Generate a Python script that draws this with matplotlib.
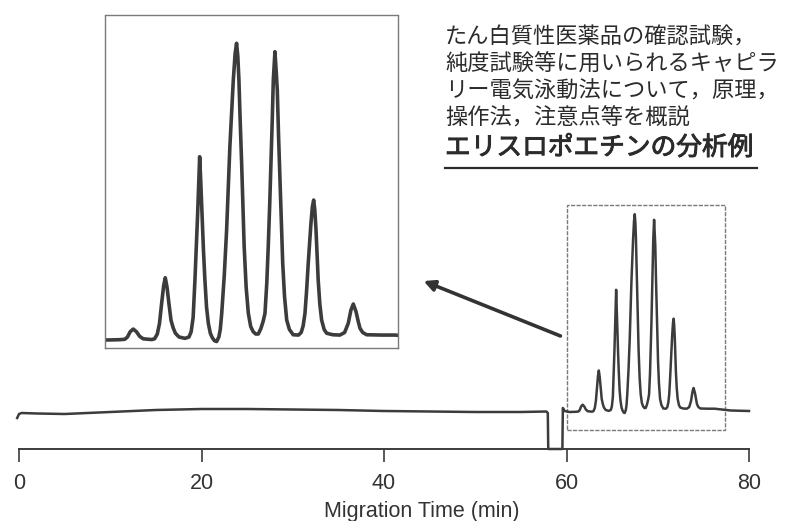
import matplotlib
matplotlib.use('Agg')
import matplotlib.pyplot as plt
import matplotlib.patheffects as pe
from matplotlib.patches import Rectangle, FancyArrowPatch
from matplotlib.lines import Line2D

# migration time (min) and detector signal (arbitrary units)
time_base = [-0.2, 0.0, 0.3, 2, 5, 10, 15, 20, 25, 30, 35, 40, 45, 50, 55,
             57.8, 57.95, 58.0, 59.55, 59.6, 59.8]
sig_base = [31, 35, 36, 35.5, 35, 37, 39, 40, 40, 39.5, 39, 38, 37.5, 37, 37,
            37.5, 36, 0, 0, 41, 38]

# EPO isoform region (60 - 80 min)
time_peaks = [60.32, 61.00, 61.31, 61.45, 61.60, 61.77, 61.95, 62.12, 62.32, 62.79,
              62.95, 63.10, 63.22, 63.34, 63.45, 63.54, 63.64, 63.74, 63.86, 63.98,
              64.10, 64.30, 64.63,
              64.85, 64.97, 65.08, 65.18, 65.26, 65.33, 65.39, 65.44, 65.50, 65.57,
              65.65, 65.73, 65.82, 65.92, 66.03, 66.14, 66.26, 66.38,
              66.50, 66.58, 66.66, 66.80, 66.93, 67.02, 67.11, 67.21, 67.30, 67.40,
              67.48, 67.55, 67.61, 67.68, 67.76, 67.83, 67.90, 68.01, 68.13, 68.26,
              68.40, 68.54, 68.68, 68.82,
              68.95, 69.05, 69.15, 69.23, 69.31, 69.38, 69.45, 69.51, 69.60, 69.66,
              69.73, 69.80, 69.88, 69.96, 70.03, 70.13, 70.25, 70.40, 70.61, 70.90,
              71.05, 71.16, 71.26, 71.35, 71.44, 71.52, 71.59, 71.67, 71.74, 71.80,
              71.87, 71.93, 71.99, 72.08, 72.18, 72.32, 72.46, 72.80, 73.19,
              73.45, 73.65, 73.80, 73.93, 74.08, 74.20, 74.30, 74.45, 74.67, 75.50,
              76.23, 78.0, 80.0]
sig_peaks = [37.0, 37.2, 37.5, 39.0, 42.5, 44.3, 42.5, 39.5, 37.8, 37.3,
             37.8, 41.0, 48.0, 61.5, 73.0, 78.5, 72.0, 61.5, 50.0, 45.0,
             41.5, 39.0, 38.1,
             39.0, 42.5, 52.0, 77.0, 100.0, 121.5, 143.0, 159.2, 143.0, 121.5,
             97.0, 77.0, 59.0, 48.1, 41.5, 38.5, 36.5, 36.0,
             39.0, 44.0, 54.8, 80.0, 110.3, 138.0, 165.9, 190.0, 210.3, 228.0,
             234.8, 226.0, 210.3, 183.0, 154.8, 127.0, 99.2, 72.0, 54.8, 46.0,
             42.5, 41.0, 41.0, 44.5,
             49.5, 54.8, 75.0, 99.2, 127.0, 154.8, 183.0, 210.3, 229.2, 218.0,
             203.7, 173.0, 143.7, 114.0, 88.1, 66.0, 50.3, 44.0, 40.5, 40.3,
             42.0, 46.5, 54.8, 70.0, 88.1, 102.0, 114.8, 126.0, 130.3, 124.0,
             110.3, 94.0, 77.0, 61.0, 50.3, 44.0, 41.5, 40.5, 40.3,
             42.0, 48.1, 57.0, 61.0, 55.9, 49.5, 44.8, 42.0, 40.5, 40.3,
             40.3, 38.5, 38.0]

xticks = [0, 20, 40, 60, 80]

body_lines = ['たん白質性医薬品の確認試験，',
              '純度試験等に用いられるキャピラ',
              'リー電気泳動法について，原理，',
              '操作法，注意点等を概説']
title_jp = 'エリスロポエチンの分析例'
xlabel = 'Migration Time (min)'


def main():
    W, H = 787, 521
    fig = plt.figure(figsize=(W / 100, H / 100), dpi=100)
    ink = '#3c3c3c'
    box = '#7a7a7a'
    jp = ['Noto Sans CJK JP', 'DejaVu Sans']

    t = time_base + time_peaks
    s = sig_base + sig_peaks

    # main electropherogram
    ax = fig.add_axes([19 / W, (H - 449) / H, 730 / W, 260 / H])
    ax.plot(t, s, color=ink, lw=1.8, clip_on=False, solid_joinstyle='round')
    ax.set_xlim(0, 80)
    ax.set_ylim(0, 260)
    for side in ['left', 'top', 'right']:
        ax.spines[side].set_visible(False)
    ax.spines['bottom'].set_color(ink)
    ax.spines['bottom'].set_linewidth(1.4)
    ax.set_yticks([])
    ax.set_xticks(xticks)
    ax.tick_params(axis='x', direction='out', length=9, width=1.2, color=ink,
                   labelsize=15.5, labelcolor='#333333', pad=8.5)
    for lab in ax.get_xticklabels():
        lab.set_family('Liberation Sans')
    ax.patch.set_alpha(0)

    # zoom window on main trace
    ax.add_patch(Rectangle((60.0, 19), 17.4, 225, fill=False, ec=box, lw=1.0,
                           ls=(0, (3, 1))))

    # magnified inset
    axi = fig.add_axes([105 / W, (H - 348) / H, 293 / W, 333 / H])
    axi.plot(t, s, color=ink, lw=2.6, solid_joinstyle='round')
    axi.set_xlim(60.21, 76.40)
    axi.set_ylim(31.67, 253.67)
    axi.set_xticks([])
    axi.set_yticks([])
    for sp in axi.spines.values():
        sp.set_color(box)
        sp.set_linewidth(1.0)
        sp.set_linestyle((0, (3, 1)))

    # arrow from zoom window to inset
    fig.add_artist(FancyArrowPatch(
        (563 / W, 1 - 337 / H), (421 / W, 1 - 280 / H),
        transform=fig.transFigure, arrowstyle='-|>', mutation_scale=16,
        lw=2.6, color='#333333'))

    # x label
    fig.text(422 / W, 1 - 511 / H, xlabel, ha='center', va='center',
             fontsize=15.5, color='#333333', family='Liberation Sans')

    # japanese description
    for i, line in enumerate(body_lines):
        fig.text(445 / W, 1 - (37 + 27 * i) / H, line, ha='left', va='center',
                 fontsize=16, color='#2b2b2b', family=jp)
    fig.text(445 / W, 1 - 148 / H, title_jp, ha='left', va='center',
             fontsize=18.5, color='#2b2b2b', family=jp,
             path_effects=[pe.withStroke(linewidth=0.7, foreground='#2b2b2b')])
    fig.add_artist(Line2D([445 / W, 757 / W], [1 - 168 / H, 1 - 168 / H],
                          transform=fig.transFigure, color='#2b2b2b', lw=1.6))

    fig.savefig('out.png', dpi=100)


if __name__ == "__main__":
    main()
